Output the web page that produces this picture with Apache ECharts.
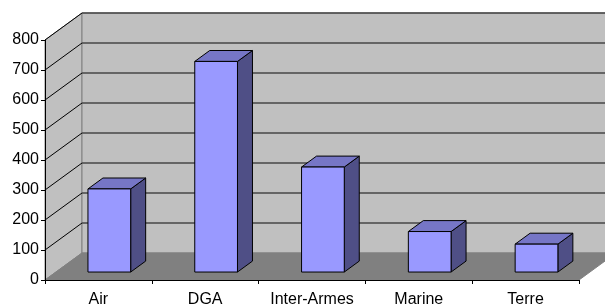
<!DOCTYPE html>
<html>
<head>
<meta charset="utf-8">
<script src="https://cdn.jsdelivr.net/npm/echarts@6/dist/echarts.min.js"></script>
<style>
    html, body { margin: 0; padding: 0; background: #fff; }
    #main { width: 605px; height: 304px; }
</style>
</head>
<body>
<div id="main"></div>
<script>
// 数据
var categories = ['Air', 'DGA', 'Inter-Armes', 'Marine', 'Terre'];
var values = [277, 702, 350, 135, 93];
var yTicks = [0, 100, 200, 300, 400, 500, 600, 700, 800];

// 3D 偏移（像素）
var DX = 37, DY = -27;
var FRONT = 0.295;   // 柱子前面所在深度比例
var DEPTH = 0.405;   // 柱子自身深度比例
var BAR_W = 0.4;     // 柱宽占类目宽比例

var dom = document.getElementById('main');
var myChart = echarts.init(dom);

/**
 * 绘制墙面和地板
 */
function renderWalls(params, api) {
    var cs = params.coordSys;
    var left = cs.x, right = cs.x + cs.width;
    var y0 = api.coord([0, 0])[1];
    var yTop = api.coord([0, yTicks[yTicks.length - 1]])[1];
    var children = [];
    // 左侧墙
    children.push({
        type: 'polygon',
        shape: { points: [[left, yTop], [left + DX, yTop + DY], [left + DX, y0 + DY], [left, y0]] },
        style: { fill: '#c0c0c0', stroke: '#808080', lineWidth: 1 }
    });
    // 后墙
    children.push({
        type: 'polygon',
        shape: { points: [[left + DX, yTop + DY], [right + DX, yTop + DY], [right + DX, y0 + DY], [left + DX, y0 + DY]] },
        style: { fill: '#c0c0c0', stroke: '#808080', lineWidth: 1 }
    });
    // 网格线
    yTicks.forEach(function (v) {
        if (v === 0) return;
        var y = api.coord([0, v])[1];
        children.push({
            type: 'line',
            shape: { x1: left + DX, y1: y + DY, x2: right + DX, y2: y + DY },
            style: { stroke: '#474747', lineWidth: 1.5 }
        });
        children.push({
            type: 'line',
            shape: { x1: left, y1: y, x2: left + DX, y2: y + DY },
            style: { stroke: '#000', lineWidth: 1 }
        });
    });
    // 地板
    children.push({
        type: 'polygon',
        shape: { points: [[left, y0], [left + DX, y0 + DY], [right + DX, y0 + DY], [right, y0]] },
        style: { fill: '#808080', stroke: '#808080', lineWidth: 1 }
    });
    return { type: 'group', children: children };
}

/**
 * 绘制立体柱子
 */
function renderBar(params, api) {
    var idx = api.value(0);
    var base = api.coord([idx, 0]);
    var top = api.coord([idx, api.value(1)]);
    var bw = api.size([1, 0])[0];
    var w = bw * BAR_W;
    var x0 = base[0] - w / 2 + DX * FRONT;
    var yb = base[1] + DY * FRONT;
    var yt = top[1] + DY * FRONT;
    var ddx = DX * DEPTH, ddy = DY * DEPTH;
    var line = { stroke: '#000', lineWidth: 1, lineJoin: 'miter' };
    return {
        type: 'group',
        children: [
            {
                type: 'polygon',
                shape: { points: [[x0 + w, yt], [x0 + w + ddx, yt + ddy], [x0 + w + ddx, yb + ddy], [x0 + w, yb]] },
                style: Object.assign({ fill: '#4f4f86' }, line)
            },
            {
                type: 'polygon',
                shape: { points: [[x0, yt], [x0 + w, yt], [x0 + w + ddx, yt + ddy], [x0 + ddx, yt + ddy]] },
                style: Object.assign({ fill: '#7676c6' }, line)
            },
            {
                type: 'rect',
                shape: { x: x0, y: yt, width: w, height: yb - yt },
                style: Object.assign({ fill: '#9999ff' }, line)
            }
        ]
    };
}

var barData = values.map(function (v, i) { return [i, v]; });

var option = {
    animation: false,
    backgroundColor: '#fff',
    grid: {
        left: 45,
        right: 26,
        top: 40,
        bottom: 24,
        containLabel: false,
        outerBoundsMode: 'none'
    },
    xAxis: {
        type: 'category',
        data: categories,
        z: 10,
        axisLine: { lineStyle: { color: '#000', width: 1 } },
        axisTick: { show: true, length: 4, lineStyle: { color: '#000' } },
        axisLabel: {
            color: '#000',
            fontFamily: 'Liberation Sans, Arial, sans-serif',
            fontSize: 16,
            margin: 12,
            interval: 0
        },
        splitLine: { show: false }
    },
    yAxis: {
        type: 'value',
        min: 0,
        max: 800,
        interval: 100,
        z: 10,
        axisLine: { show: true, lineStyle: { color: '#000', width: 1 } },
        axisTick: { show: true, length: 4, lineStyle: { color: '#000' } },
        axisLabel: {
            color: '#000',
            fontFamily: 'Liberation Sans, Arial, sans-serif',
            fontSize: 16,
            margin: 6
        },
        splitLine: { show: false }
    },
    series: [
        {
            type: 'custom',
            name: 'walls',
            renderItem: renderWalls,
            data: [[0, 0]],
            silent: true,
            z: 1
        },
        {
            type: 'custom',
            name: 'bars',
            renderItem: renderBar,
            data: barData,
            z: 3
        }
    ]
};
myChart.setOption(option, true);
</script>
</body>
</html>
